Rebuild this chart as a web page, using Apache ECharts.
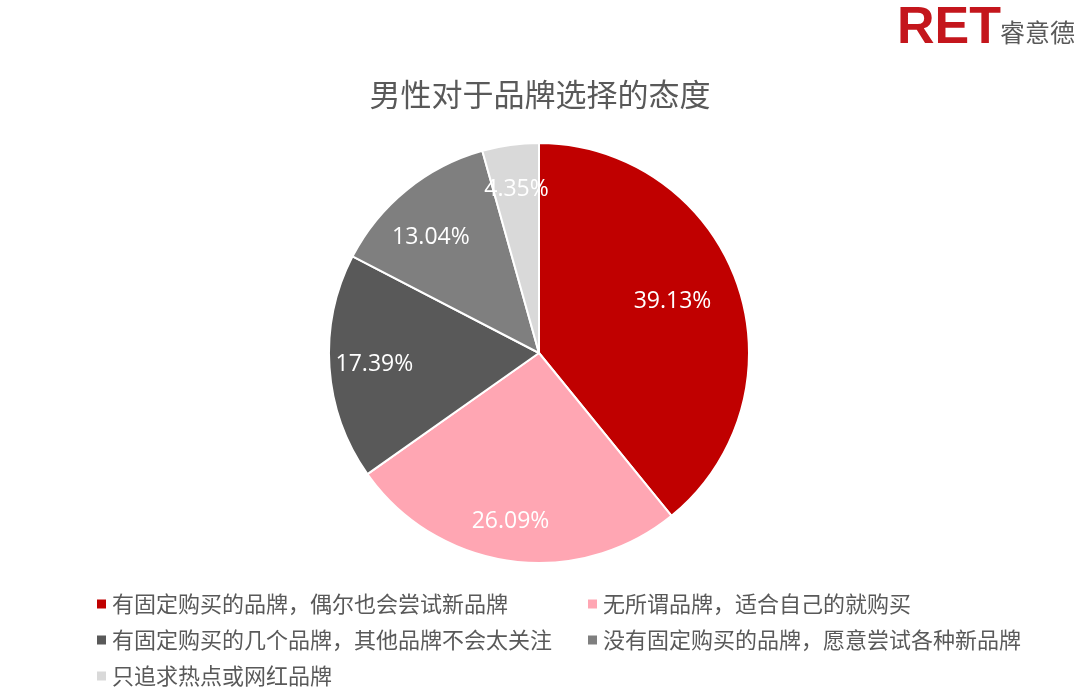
<!DOCTYPE html>
<html><head><meta charset="utf-8">
<script src="https://cdn.jsdelivr.net/npm/echarts@6/dist/echarts.min.js"></script>
<style>html,body{margin:0;padding:0;background:#fff}#c{width:1080px;height:697px}</style>
</head><body><div id="c"></div>
<script>
const titleText = '男性对于品牌选择的态度';
const categories = [
  '有固定购买的品牌，偶尔也会尝试新品牌',
  '无所谓品牌，适合自己的就购买',
  '有固定购买的几个品牌，其他品牌不会太关注',
  '没有固定购买的品牌，愿意尝试各种新品牌',
  '只追求热点或网红品牌'
];
const values = [39.13, 26.09, 17.39, 13.04, 4.35];
const colors = ['#C00000', '#FFA6B3', '#595959', '#7F7F7F', '#D9D9D9'];

// label nudges (style only) to mimic the reference's best-fit placement
const labelOffsets = [[-22, 4], [-6, 5], [0, 0], [-4, 12], [0, 0]];

const chart = echarts.init(document.getElementById('c'), null, {renderer: 'canvas'});
const data = categories.map((n, i) => ({name: n, value: values[i], itemStyle: {color: colors[i]}}));
const cjk = '"Noto Sans CJK SC", "Noto Sans", sans-serif';
const legendText = {fontSize: 22, color: '#595959', fontFamily: cjk};
chart.setOption({
  animation: false,
  title: {
    text: titleText, left: 'center', top: 74,
    textStyle: {fontSize: 31, fontWeight: 'normal', color: '#595959', fontFamily: cjk}
  },
  graphic: [
    {type: 'text', left: 897, top: 3, style: {text: 'RET', font: 'bold 52px "Liberation Sans", Arial, sans-serif', fill: '#C4161C'}},
    {type: 'text', left: 1000, top: 20, style: {text: '睿意德', font: '25px "Noto Sans CJK SC", sans-serif', fill: '#595959'}}
  ],
  legend: [
    {orient: 'vertical', left: 90, top: 588, itemGap: 14, itemWidth: 11, itemHeight: 11, icon: 'rect',
     data: [categories[0], categories[2], categories[4]], textStyle: legendText, selectedMode: false},
    {orient: 'vertical', left: 581, top: 588, itemGap: 14, itemWidth: 11, itemHeight: 11, icon: 'rect',
     data: [categories[1], categories[3]], textStyle: legendText, selectedMode: false}
  ],
  series: [
    {
      type: 'pie', center: [539, 353], radius: [0, 210], startAngle: 90, clockwise: true,
      data: data, label: {show: false}, labelLine: {show: false},
      itemStyle: {borderColor: '#fff', borderWidth: 2}, emphasis: {disabled: true}
    },
    {
      type: 'pie', center: [539, 353], radius: [114, 210], startAngle: 90, clockwise: true, silent: true,
      data: categories.map((n, i) => ({name: n, value: values[i], label: {offset: labelOffsets[i]}})),
      itemStyle: {color: 'rgba(0,0,0,0)', borderWidth: 0},
      label: {show: true, position: 'inside', color: '#fff', fontSize: 23, fontFamily: '"Open Sans", sans-serif',
              formatter: p => p.value.toFixed(2) + '%'},
      labelLine: {show: false}, emphasis: {disabled: true}
    }
  ]
});
</script></body></html>
